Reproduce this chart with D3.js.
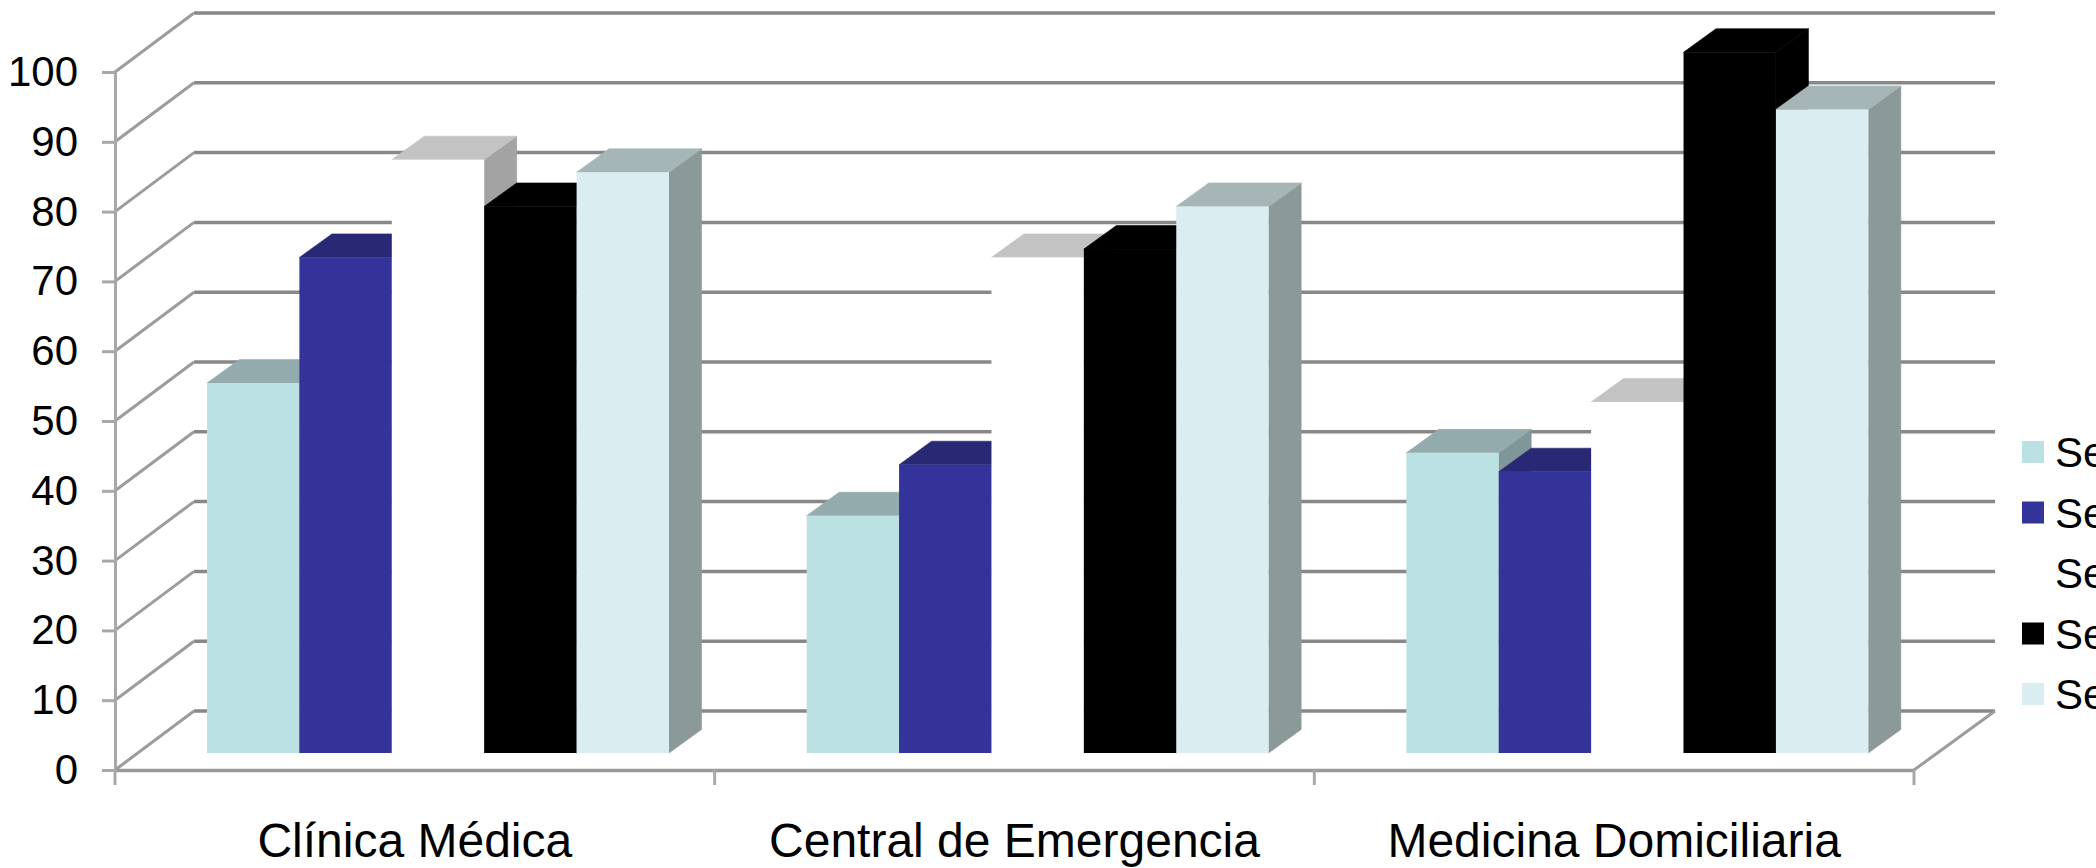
<!DOCTYPE html>
<html>
<head>
<meta charset="utf-8">
<script src="https://cdn.jsdelivr.net/npm/d3@7/dist/d3.min.js"></script>
<style>
  html, body { margin: 0; padding: 0; background: #fff; overflow: hidden; }
  svg { display: block; }
  text { font-family: "Liberation Sans", Arial, sans-serif; fill: #000; }
</style>
</head>
<body>
<svg id="chart" width="2096" height="868"></svg>
<script>
// Chart content
const categories = ["Clínica Médica", "Central de Emergencia", "Medicina Domiciliaria"];
const seriesKeys = [0, 1, 2, 3, 4];
const legendLabels = ["Se", "Se", "Se", "Se", "Se"];
const serie1 = [53, 34, 43];
const serie2 = [71, 41.3, 40.3];
const serie3 = [85, 71, 50.3];
const serie4 = [78.3, 72.2, 100.4];
const serie5 = [83.2, 78.3, 92.2];
const seriesValues = [serie1, serie2, serie3, serie4, serie5];
const yTicks = [0, 10, 20, 30, 40, 50, 60, 70, 80, 90, 100];

// Face colours per series: front, top, side
const frontColors = ["#bbe1e3", "#333399", "#ffffff", "#000000", "#daedf1"];
const topColors = ["#93abad", "#282874", "#c3c3c3", "#000000", "#a6b6b6"];
const sideColors = ["#7f9799", "#20205e", "#a3a3a3", "#000000", "#8c9999"];

// Oblique projection of the chart box
const wallDx = 79, wallDy = -59;   // front plane to back wall
const barLift = 17;                // bars stand slightly behind the front plane
const barDx = 32.5, barDy = -23.5; // depth of each bar

const svg = d3.select("#chart");
const x = d3.scaleBand().domain(categories).range([115, 1914]);
const y = d3.scaleLinear().domain([0, 100]).range([770, 72]);
const innerX = d3.scaleBand().domain(seriesKeys).range([92, 92 + 462]);

const gridColor = "#888888", axisColor = "#a8a8a8";
const xEnd = x.range()[1];
const xStart = x.range()[0];

// Back wall gridlines
svg.append("g").selectAll("line").data(yTicks).join("line")
  .attr("x1", xStart + wallDx).attr("x2", xEnd + wallDx + 2)
  .attr("y1", d => y(d) + wallDy).attr("y2", d => y(d) + wallDy)
  .attr("stroke", gridColor).attr("stroke-width", 3.5);

// Side wall gridlines
svg.append("g").selectAll("line").data(yTicks).join("line")
  .attr("x1", xStart).attr("x2", xStart + wallDx)
  .attr("y1", d => y(d)).attr("y2", d => y(d) + wallDy)
  .attr("stroke", "#9c9c9c").attr("stroke-width", 3);

// Floor edge on the right
svg.append("line")
  .attr("x1", xEnd).attr("x2", xEnd + wallDx + 2)
  .attr("y1", y(0)).attr("y2", y(0) + wallDy)
  .attr("stroke", "#9c9c9c").attr("stroke-width", 3);

// Value axis
const yAxis = svg.append("g")
  .attr("transform", `translate(${xStart},0)`)
  .call(d3.axisLeft(y).tickValues(yTicks).tickSize(13).tickPadding(24));
yAxis.select(".domain").attr("stroke", axisColor).attr("stroke-width", 3);
yAxis.selectAll(".tick line").attr("stroke", axisColor).attr("stroke-width", 3);
yAxis.selectAll("text").attr("font-size", 42).style("font-family", '"Liberation Sans", Arial, sans-serif');

// Category axis: labels centred in each band, ticks on the band edges
const xAxis = svg.append("g")
  .attr("transform", `translate(0,${y(0)})`)
  .call(d3.axisBottom(x).tickSize(0).tickPadding(0).tickSizeOuter(0));
xAxis.select(".domain").attr("stroke", "#999999").attr("stroke-width", 3.5);
xAxis.selectAll("text")
  .attr("font-size", 48)
  .attr("dy", 0).attr("y", 87)
  .style("font-family", '"Liberation Sans", Arial, sans-serif');
const bandEdges = categories.map(c => x(c)).concat([xEnd]);
xAxis.append("g").selectAll("line").data(bandEdges).join("line")
  .attr("x1", d => d).attr("x2", d => d)
  .attr("y1", 0).attr("y2", 15)
  .attr("stroke", axisColor).attr("stroke-width", 3);

// Bars: series left to right so that each one overlaps its neighbour's side
const bars = svg.append("g");
const poly = pts => pts.map(p => p.join(",")).join(" ");
categories.forEach((cat, c) => {
  seriesKeys.forEach(s => {
    const v = seriesValues[s][c];
    const x0 = x(cat) + innerX(s);
    const x1 = x0 + innerX.bandwidth();
    const yTop = y(v) - barLift;
    const yBase = y(0) - barLift;
    const g = bars.append("g");
    g.append("polygon")
      .attr("points", poly([[x1, yTop], [x1 + barDx, yTop + barDy], [x1 + barDx, yBase + barDy], [x1, yBase]]))
      .attr("fill", sideColors[s]).attr("stroke", sideColors[s]).attr("stroke-width", 0.6);
    g.append("polygon")
      .attr("points", poly([[x0, yTop], [x0 + barDx, yTop + barDy], [x1 + barDx, yTop + barDy], [x1, yTop]]))
      .attr("fill", topColors[s]).attr("stroke", topColors[s]).attr("stroke-width", 0.6);
    g.append("rect")
      .attr("x", x0).attr("y", yTop)
      .attr("width", x1 - x0).attr("height", yBase - yTop)
      .attr("fill", frontColors[s]);
  });
});

// Legend, running off the right edge of the page
const legendY = d3.scalePoint().domain(seriesKeys).range([452, 694]);
const legend = svg.append("g").selectAll("g").data(seriesKeys).join("g")
  .attr("transform", d => `translate(2022,${legendY(d)})`);
legend.append("rect")
  .attr("x", 0).attr("y", -11).attr("width", 22).attr("height", 22)
  .attr("fill", d => frontColors[d]);
legend.append("text")
  .attr("x", 33).attr("y", 15)
  .attr("font-size", 42)
  .text(d => legendLabels[d]);
</script>
</body>
</html>
